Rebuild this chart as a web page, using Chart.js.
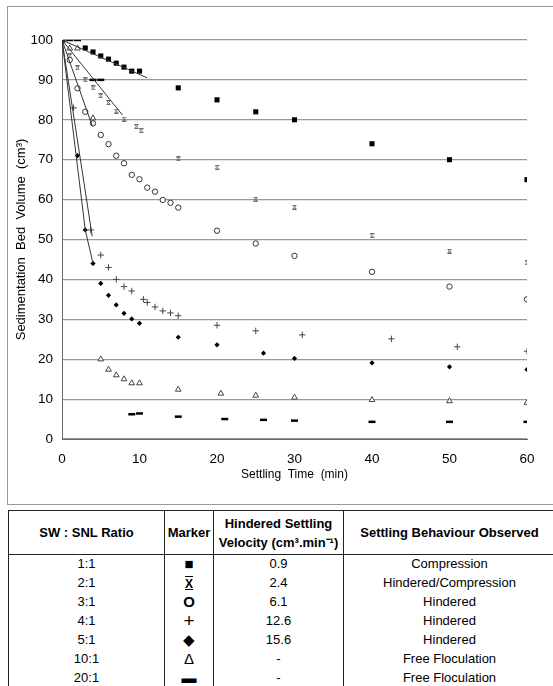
<!DOCTYPE html>
<html><head><meta charset="utf-8">
<script src="https://cdn.jsdelivr.net/npm/chart.js@4/dist/chart.umd.min.js"></script>
<style>
html,body{margin:0;padding:0;background:#fff;}
body{width:553px;height:686px;overflow:hidden;position:relative;font-family:"Liberation Sans",Arial,sans-serif;color:#000;}
#frame{position:absolute;left:7px;top:6px;width:560px;height:499px;border:1px solid #999;box-sizing:border-box;}
#wrap{position:absolute;left:8px;top:7px;width:540px;height:497px;}
table{position:absolute;left:8px;top:510px;width:548px;border-collapse:collapse;border:1.5px solid #222;table-layout:fixed;}
th{font-weight:bold;font-size:13px;height:43px;border:1px solid #222;padding:0;line-height:19px;}
td{font-size:13px;text-align:center;border-left:1px solid #222;border-right:1px solid #222;padding:0;height:18.6px;line-height:18.6px;}
.mk{font-size:15px;}
.pl{font-size:19px;line-height:18px;}
.xb{text-decoration:underline overline;font-weight:bold;font-size:12px;}
</style>
</head><body>
<div id="frame"></div>
<div id="wrap"><canvas id="c" width="540" height="497"></canvas></div>
<table id="tbl"></table>
<script>
// ---- table data ----
const ratios = ['1:1','2:1','3:1','4:1','5:1','10:1','20:1'];
const markerSymbols = ['■','X','O','+','◆','Δ','▬'];
const velocities = ['0.9','2.4','6.1','12.6','15.6','-','-'];
const behaviours = ['Compression','Hindered/Compression','Hindered','Hindered','Hindered','Free Floculation','Free Floculation'];

// ---- chart data ----
const xTicks = [0,10,20,30,40,50,60];
const yTicks = [0,10,20,30,40,50,60,70,80,90,100];

const t11 = [0,3,4,5,6,7,8,9,10,15,20,25,30,40,50,60];
const v11 = [100,98,97,96,95.2,94.2,93.2,92.2,92.2,88,85,82,80,74,70,65];

const t21 = [0,1,2,3,4,5,6,7,8,9.6,10.2,15,20,25,30,40,50,60];
const v21 = [100,96,93,90,88,86,84.3,82.2,80.2,78.3,77.3,70.2,68.1,60.1,58.1,51,47.1,44.2];

const t31 = [0,1,2,3,4,5,6,7,8,9,10,11,12,13,14,15,20,25,30,40,50,60];
const v31 = [100,95,87.9,82,79.1,76.2,73.9,71,69.1,66.2,65.1,63,62,59.9,59.2,58,52.2,49,45.9,41.9,38.2,35];

const t41 = [0,1.5,3.7,5,6,7,8,9,10.5,11,12,13,14,15,20,25,31,42.5,51,60];
const v41 = [100,83,52.4,46.1,43,40,38.2,37.1,35,34.2,33.1,32.1,31.6,30.9,28.5,27.1,26.1,25.1,23.1,22];

const t51 = [0,2,3,4,5,6,7,8,9,10,15,20,26,30,40,50,60];
const v51 = [100,71,52.4,44,39,36,33.6,31.5,30.1,29,25.5,23.6,21.5,20.2,19.1,18.1,17.4];

const t101 = [0,1,2,4,5,6,7,8,9,10,15,20.5,25,30,40,50,60];
const v101 = [100,97.9,97.9,80.4,20,17.4,16,15,14,14,12.4,11.4,10.9,10.4,9.8,9.5,9.1];

const t201 = [0,1,2,4,5,9,10,15,21,26,30,40,50,60];
const v201 = [100,100,100,90,90,6.2,6.4,5.6,5,4.8,4.6,4.3,4.3,4.3];

// fitted hindered-settling lines
const fit11T = [0,11],   fit11V = [100,90.5];
const fit21T = [0,7.8],  fit21V = [100,81.2];
const fit31T = [0,3.9],  fit31V = [100,78.5];
const fit41T = [0,3.9],  fit41V = [100,50.8];
const fit51T = [0,3,4],  fit51V = [100,52.4,44];

// ---- build table ----
(function(){
  const tb = document.getElementById('tbl');
  let h = '<colgroup><col style="width:156px"><col style="width:49px"><col style="width:130px"><col></colgroup>';
  h += '<tr><th>SW : SNL Ratio</th><th>Marker</th><th>Hindered Settling<br>Velocity (cm³.min⁻¹)</th><th>Settling Behaviour Observed</th></tr>';
  ratios.forEach((r,i)=>{
    let m = markerSymbols[i];
    if (i===1) m = '<span class="xb">X</span>';
    else if (i===2) m = '<b>O</b>';
    else if (i===3) m = '<span class="pl">+</span>';
    h += '<tr><td>'+r+'</td><td class="mk">'+m+'</td><td>'+velocities[i]+'</td><td>'+behaviours[i]+'</td></tr>';
  });
  tb.innerHTML = h;
})();

function pts(t,v){ return t.map((x,i)=>({x:x,y:v[i]})); }

function hourglass(){
  const c=document.createElement('canvas'); c.width=5; c.height=5;
  const g=c.getContext('2d'); g.strokeStyle='#555'; g.lineWidth=0.9;
  g.beginPath();
  g.moveTo(0.5,0.5); g.lineTo(4.5,0.5);
  g.moveTo(0.5,4.5); g.lineTo(4.5,4.5);
  g.moveTo(0.8,0.8); g.lineTo(4.2,4.2);
  g.moveTo(4.2,0.8); g.lineTo(0.8,4.2);
  g.stroke(); return c;
}

function lineDs(t,v){
  return {data:pts(t,v), showLine:true, borderColor:'#333', borderWidth:1, pointRadius:0, fill:false, order:0};
}
function markDs(t,v,style,extra){
  return Object.assign({data:pts(t,v), showLine:false, pointStyle:style, order:1}, extra);
}

new Chart(document.getElementById('c'), {
  type:'scatter',
  data:{datasets:[
    lineDs(fit11T,fit11V), lineDs(fit21T,fit21V), lineDs(fit31T,fit31V), lineDs(fit41T,fit41V), lineDs(fit51T,fit51V),
    markDs(t11,v11,'rect',{pointRadius:3.6,backgroundColor:'#000',borderColor:'#000',borderWidth:0}),
    markDs(t21,v21,hourglass(),{pointRadius:3}),
    markDs(t31,v31,'circle',{pointRadius:2.7,backgroundColor:'#fff',borderColor:'#333',borderWidth:1}),
    markDs(t41,v41,'cross',{pointRadius:3.2,borderColor:'#444',borderWidth:1}),
    markDs(t51,v51,'rectRot',{pointRadius:2.6,backgroundColor:'#000',borderColor:'#000',borderWidth:0}),
    markDs(t101,v101,'triangle',{pointRadius:3.3,backgroundColor:'#fff',borderColor:'#444',borderWidth:1}),
    markDs(t201,v201,'line',{pointRadius:3.5,borderColor:'#000',borderWidth:2.5})
  ]},
  options:{
    responsive:false, animation:false,
    layout:{padding:{top:33,right:21,left:0,bottom:0}},
    plugins:{legend:{display:false}, tooltip:{enabled:false}},
    scales:{
      x:{type:'linear', min:0, max:60,
        afterBuildTicks(s){ s.ticks = xTicks.map(v=>({value:v})); },
        ticks:{color:'#000', font:{size:13.5,family:'"Liberation Sans", Arial'}, padding:4, maxRotation:0},
        grid:{display:false},
        border:{display:true, color:'#666', width:1},
        title:{display:true, text:'Settling  Time  (min)', color:'#000', font:{size:12,family:'"Liberation Sans", Arial'}, padding:{top:0,bottom:22}},
        afterFit(s){ s.height = 65; }
      },
      y:{min:0, max:100,
        afterBuildTicks(s){ s.ticks = yTicks.map(v=>({value:v})); },
        ticks:{color:'#000', font:{size:13.5,family:'"Liberation Sans", Arial'}, padding:9},
        grid:{color:'#999', lineWidth:1.2, drawTicks:false},
        border:{display:true, color:'#666', width:1},
        title:{display:true, text:'Sedimentation  Bed  Volume  (cm³)', color:'#000', font:{size:13,family:'"Liberation Sans", Arial'}, padding:{top:6,bottom:0}},
        afterFit(s){ s.width = 54; }
      }
    }
  }
});
</script>
</body></html>
